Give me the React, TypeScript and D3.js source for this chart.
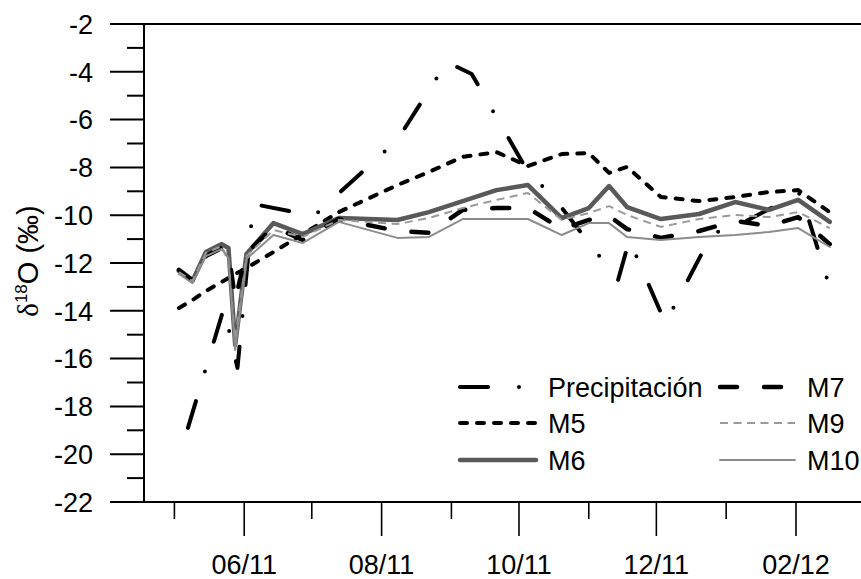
import React from "react";
import * as d3 from "d3";

// Sampling dates for the groundwater monitoring points (M5–M10)
const sampleDates = [
  "2011-05-03", "2011-05-09", "2011-05-15", "2011-05-22", "2011-05-25",
  "2011-05-28", "2011-06-02", "2011-06-14", "2011-06-27", "2011-07-13",
  "2011-08-08", "2011-08-22", "2011-09-06", "2011-09-21", "2011-10-05",
  "2011-10-20", "2011-11-01", "2011-11-10", "2011-11-18", "2011-12-03",
  "2011-12-20", "2012-01-05", "2012-01-20", "2012-02-02", "2012-02-16",
];

const m5 = [-13.88, -13.55, -13.17, -12.79, -12.63, -12.46, -12.21, -11.54, -10.79, -9.87,
  -8.74, -8.19, -7.56, -7.36, -7.94, -7.44, -7.4, -8.23, -7.98, -9.24,
  -9.41, -9.24, -9.03, -8.95, -9.87];
const m6 = [-12.33, -12.75, -11.54, -11.21, -11.37, -15.43, -11.62, -10.33, -10.79, -10.12,
  -10.2, -9.87, -9.41, -8.95, -8.74, -10.12, -9.7, -8.78, -9.66, -10.16,
  -9.95, -9.45, -9.78, -9.36, -10.28];
const m7 = [-12.29, -12.71, -11.71, -11.37, -11.54, -13.55, -11.58, -10.49, -11.04, -10.16,
  -10.66, -10.74, -9.78, -9.7, -9.7, -10.58, -10.2, -10.03, -10.58, -10.95,
  -10.66, -10.24, -10.45, -10.08, -11.21];
const m9 = [-12.38, -12.75, -11.58, -11.29, -11.96, -15.22, -11.71, -10.62, -10.91, -10.2,
  -10.37, -10.12, -9.7, -9.36, -9.07, -10.2, -9.91, -9.62, -9.99, -10.49,
  -10.16, -9.99, -10.08, -9.87, -10.54];
const m10 = [-12.46, -12.84, -11.71, -11.41, -11.79, -15.64, -11.83, -10.83, -11.16, -10.28,
  -10.95, -10.91, -10.16, -10.16, -10.16, -10.83, -10.33, -10.33, -10.91, -11.04,
  -10.91, -10.83, -10.7, -10.54, -11.33];

// Rainfall samples
const precipDates = [
  "2011-05-07", "2011-05-23", "2011-05-29", "2011-06-05", "2011-07-02",
  "2011-08-08", "2011-08-30", "2011-09-10", "2011-10-04", "2011-10-19",
  "2011-11-14", "2011-11-19", "2011-12-05", "2011-12-26", "2012-01-03",
  "2012-02-03", "2012-02-17",
];
const precip = [-18.9, -13.88, -16.39, -9.53, -10.03, -6.85, -3.59, -4.09, -8.03, -9.57,
  -12.71, -11.04, -14.51, -10.74, -10.58, -9.07, -13.34];

const yMajorTicks = [-2, -4, -6, -8, -10, -12, -14, -16, -18, -20, -22];
const yMinorTicks = [-3, -5, -7, -9, -11, -13, -15, -17, -19, -21];
const xMajorTicks = ["2011-06-01", "2011-08-01", "2011-10-01", "2011-12-01", "2012-02-01"];
const xMinorTicks = ["2011-05-01", "2011-07-01", "2011-09-01", "2011-11-01", "2012-01-01"];

const parse = d3.utcParse("%Y-%m-%d");
const fmt = d3.utcFormat("%m/%y");

type Style = { color: string; width: number; dash?: string; cap: "round" | "butt" };
const styles: Record<string, Style> = {
  "Precipitación": { color: "#000", width: 4, dash: "28 31 0 31", cap: "round" },
  M5: { color: "#000", width: 4, dash: "7 10", cap: "round" },
  M6: { color: "#595959", width: 4.5, cap: "round" },
  M7: { color: "#000", width: 4.5, dash: "17 27", cap: "round" },
  M9: { color: "#9a9a9a", width: 2, dash: "8 5.5", cap: "butt" },
  M10: { color: "#8c8c8c", width: 2, cap: "round" },
};

export default function App() {
  const W = 861, H = 579;
  const left = 144, right = 861.3, top = 24, bottom = 502;
  const x = d3.scaleUtc()
    .domain([new Date(Date.UTC(2011, 3, 17, 12)), new Date(Date.UTC(2012, 2, 1))])
    .range([left, right]);
  const y = d3.scaleLinear().domain([-2, -22]).range([top, bottom]);
  const line = d3.line<[Date, number]>().x((d) => x(d[0])).y((d) => y(d[1]));

  const seriesM: [string, number[]][] = [["M5", m5], ["M6", m6], ["M7", m7], ["M9", m9], ["M10", m10]];
  const sDates = sampleDates.map((s) => parse(s)!);
  const pDates = precipDates.map((s) => parse(s)!);

  const paths: { key: string; d: string }[] = [
    { key: "Precipitación", d: line(pDates.map((dt, i) => [dt, precip[i]]))! },
    ...seriesM.map(([k, v]) => ({ key: k, d: line(sDates.map((dt, i) => [dt, v[i]]))! })),
  ];

  const font = "'Liberation Sans', Arial, sans-serif";
  const fs = 27;
  const legend = [
    { key: "Precipitación", col: 0, row: 0 },
    { key: "M7", col: 1, row: 0 },
    { key: "M5", col: 0, row: 1 },
    { key: "M9", col: 1, row: 1 },
    { key: "M6", col: 0, row: 2 },
    { key: "M10", col: 1, row: 2 },
  ];
  const legX = [460, 720];
  const legLen = [76, 75];
  const legTextX = [548, 807];
  const legY = [387, 423, 460];

  return (
    <svg width={W} height={H} style={{ position: "absolute", left: 0, top: 0, background: "#fff" }}
      fontFamily={font}>
      {/* data lines */}
      {paths.map((p) => {
        const s = styles[p.key];
        return (
          <path key={p.key} d={p.d} fill="none" stroke={s.color} strokeWidth={s.width}
            strokeDasharray={s.dash} strokeLinecap={s.cap} strokeLinejoin="round" />
        );
      })}

      {/* y axis */}
      <line x1={left} x2={left} y1={top} y2={bottom} stroke="#000" strokeWidth={2} />
      <line x1={110} x2={W} y1={top} y2={top} stroke="#000" strokeWidth={2} />
      <line x1={110} x2={W} y1={bottom} y2={bottom} stroke="#000" strokeWidth={2} />
      {yMajorTicks.map((t) => (
        <g key={"ym" + t}>
          <line x1={110} x2={left} y1={y(t)} y2={y(t)} stroke="#000" strokeWidth={2} />
          <text x={93} y={y(t)} dy="0.36em" textAnchor="end" fontSize={fs} fill="#000">{t}</text>
        </g>
      ))}
      {yMinorTicks.map((t) => (
        <line key={"yn" + t} x1={127} x2={left} y1={y(t)} y2={y(t)} stroke="#000" strokeWidth={2} />
      ))}

      {/* x axis */}
      {xMajorTicks.map((s) => {
        const xv = x(parse(s)!);
        return (
          <g key={"xm" + s}>
            <line x1={xv} x2={xv} y1={bottom} y2={536} stroke="#000" strokeWidth={1.6} />
            <text x={xv} y={574} textAnchor="middle" fontSize={fs} fill="#000">{fmt(parse(s)!)}</text>
          </g>
        );
      })}
      {xMinorTicks.map((s) => {
        const xv = x(parse(s)!);
        return <line key={"xn" + s} x1={xv} x2={xv} y1={bottom} y2={519} stroke="#000" strokeWidth={1.6} />;
      })}

      {/* y axis title */}
      <text transform="translate(38,261) rotate(-90)" textAnchor="middle" fontSize={29} fill="#000">
        <tspan fontFamily="'Liberation Serif', serif">δ</tspan>
        <tspan fontSize={17} dy={-11}>18</tspan>
        <tspan dy={11}>O (‰)</tspan>
      </text>

      {/* legend */}
      {legend.map((l) => {
        const s = styles[l.key];
        const ly = legY[l.row];
        return (
          <g key={"lg" + l.key}>
            <line x1={legX[l.col]} x2={legX[l.col] + legLen[l.col]} y1={ly} y2={ly}
              stroke={s.color} strokeWidth={s.width} strokeDasharray={s.dash} strokeLinecap={s.cap} />
            <text x={legTextX[l.col]} y={ly} dy="0.36em" fontSize={fs} fill="#000">{l.key}</text>
          </g>
        );
      })}
    </svg>
  );
}
